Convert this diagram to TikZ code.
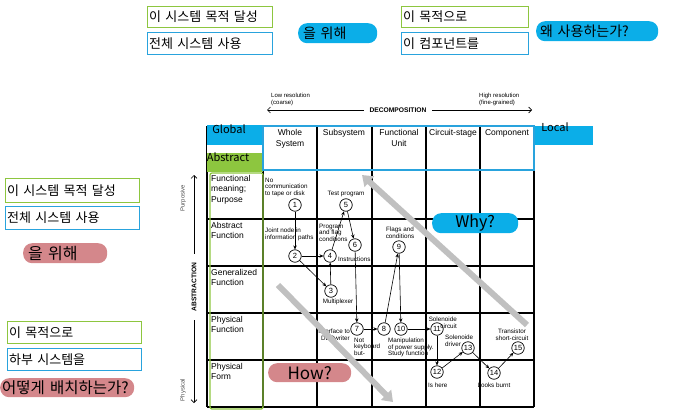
\documentclass[tikz,border=0pt]{standalone}
\usepackage{fontspec}
\setmainfont{Liberation Sans}
\newfontfamily\krfont{Noto Sans CJK KR}
\usetikzlibrary{arrows.meta}

\definecolor{goalgreen}{HTML}{8DC63F}
\definecolor{useblue}{HTML}{29A3DD}
\definecolor{pillblue}{HTML}{0BAEE8}
\definecolor{pillpink}{HTML}{D4878B}
\definecolor{arrowgray}{HTML}{C0C0C0}

\tikzset{
  krbox/.style={rectangle, anchor=north west, line width=1.2pt, inner xsep=1.5pt, inner ysep=0pt, align=left, font=\krfont\fontsize{13}{14}\selectfont},
  goalbox/.style={krbox, draw=goalgreen},
  usebox/.style={krbox, draw=useblue},
  pill/.style={rectangle, rounded corners=9pt, anchor=north west, inner ysep=0pt, minimum height=20pt, font=\krfont\fontsize{14}{15}\selectfont},
  bluepill/.style={pill, fill=pillblue},
  pinkpill/.style={pill, fill=pillpink},
  num/.style={circle, draw=black, line width=0.7pt, fill=white, minimum size=12.5pt, inner sep=0pt, font=\fontsize{7.5}{7.5}\selectfont},
  flow/.style={draw=black, line width=0.6pt, -{Stealth[length=4pt,width=3.5pt]}},
  note/.style={inner sep=0pt, align=left, font=\fontsize{6.3}{6.8}\selectfont},
  rowlabel/.style={inner sep=0pt, anchor=north west, align=left, font=\fontsize{8.5}{10.5}\selectfont},
  header/.style={inner sep=0pt, anchor=north, align=center, font=\fontsize{8.5}{11}\selectfont},
  bigarrow/.style={draw=arrowgray, line width=6pt, -{Triangle[length=10pt,width=14pt]}}
}

\begin{document}
\begin{tikzpicture}[x=1pt, y=-1pt]
\useasboundingbox (0,0) rectangle (696,415);

% top explanation
\node[goalbox, text width=122pt, minimum height=21pt] (tgoal) at (147,6) {이 시스템 목적 달성};
\node[usebox, text width=122pt, minimum height=22pt] (tuse) at (147,32) {전체 시스템 사용};
\node[bluepill, text width=69pt, inner xsep=5pt] (tfor) at (298,23) {을 위해};
\node[goalbox, text width=124pt, minimum height=21pt] (tgoal2) at (401,6) {이 목적으로};
\node[usebox, text width=124pt, minimum height=22pt] (tcomp) at (401,32) {이 컴포넌트를};
\node[bluepill, text width=114pt, inner xsep=4pt] (twhy) at (536,21) {왜 사용하는가?};

% left explanation
\node[goalbox, text width=131pt, minimum height=24pt] (lgoal) at (5,178) {이 시스템 목적 달성};
\node[usebox, text width=131pt, minimum height=23pt] (luse) at (5,206) {전체 시스템 사용};
\node[pinkpill, text width=74pt, inner xsep=5pt, font=\krfont\fontsize{16}{17}\selectfont] (lfor) at (23,243) {을 위해};
\node[goalbox, text width=131pt, minimum height=22pt] (lgoal2) at (7,321) {이 목적으로};
\node[usebox, text width=131pt, minimum height=22pt] (lsub) at (7,348) {하부 시스템을};
\node[pinkpill, text width=130pt, inner xsep=2pt, minimum height=19pt, font=\krfont\fontsize{15.5}{16}\selectfont] (lhow) at (0,378) {어떻게 배치하는가?};

% decomposition axis
\coordinate (decL) at (267,110);
\coordinate (decR) at (532,110);
\draw[line width=0.6pt, {Straight Barb[length=3pt,width=6pt]}-{Straight Barb[length=3pt,width=6pt]}] (decL) -- (decR);
\node[fill=white, inner xsep=6pt, inner ysep=1pt, font=\bfseries\fontsize{6.7}{7}\selectfont] (dec) at (398,110) {DECOMPOSITION};
\node[note, anchor=north west, font=\fontsize{6}{6.5}\selectfont] (low) at (271,93) {Low resolution\\(coarse)};
\node[note, anchor=north west, font=\fontsize{6}{6.5}\selectfont] (high) at (479,93) {High resolution\\(fine-grained)};

% abstraction axis
\coordinate (absT) at (194,175);
\coordinate (absB) at (194,403);
\draw[line width=0.6pt, {Straight Barb[length=3pt,width=6pt]}-{Straight Barb[length=3pt,width=6pt]}] (absT) -- (absB);
\node[fill=white, rotate=90, inner xsep=9pt, inner ysep=1pt, font=\bfseries\fontsize{6.7}{7}\selectfont] (abs) at (194,287) {ABSTRACTION};
\node[rotate=90, inner sep=0pt, text=black!70, font=\fontsize{6}{6.5}\selectfont] (purp) at (183,198) {Purposive};
\node[rotate=90, inner sep=0pt, text=black!70, font=\fontsize{6}{6.5}\selectfont] (phys) at (183,390) {Physical};

% grid
\foreach \gx in {207,263,317,372,426,480,534}
  \draw[line width=1.1pt] (\gx,126) -- (\gx,407);
\foreach \gy in {126,170,219,266,313,360,407}
  \draw[line width=1.1pt] (207,\gy) -- (534,\gy);

% colour marks on the grid
\fill[pillblue] (207,125) rectangle (263,145);
\fill[white] (207,145) rectangle (262.5,153);
\fill[goalgreen] (207,153) rectangle (263,172);
\fill[pillblue] (534,126) rectangle (593,145);
\draw[useblue, line width=1.5pt] (263,126) rectangle (534,170);
\draw[goalgreen, line width=1.3pt, rounded corners=2pt] (210,173) rectangle (263,409);
\node[inner sep=0pt, font=\krfont\fontsize{11}{12}\selectfont] (glob) at (229,129) {Global};
\node[inner sep=0pt, font=\krfont\fontsize{11}{12}\selectfont] (abst) at (228,157) {Abstract};
\node[inner sep=0pt, font=\krfont\fontsize{11}{12}\selectfont] (loc) at (555,127) {Local};

% headers
\node[header] (h1) at (290,129) {Whole\\System};
\node[header] (h2) at (344,129) {Subsystem};
\node[header] (h3) at (399,129) {Functional\\Unit};
\node[header] (h4) at (453,129) {Circuit-stage};
\node[header] (h5) at (507,129) {Component};

% row labels
\node[rowlabel] (r1) at (211,175) {Functional\\meaning;\\Purpose};
\node[rowlabel] (r2) at (211,222) {Abstract\\Function};
\node[rowlabel] (r3) at (211,269) {Generalized\\Function};
\node[rowlabel] (r4) at (211,316) {Physical\\Function};
\node[rowlabel] (r5) at (211,363) {Physical\\Form};

% search path
\node[num] (n1) at (295,205) {1};
\node[num] (n2) at (295,256) {2};
\node[num] (n3) at (331,291) {3};
\node[num] (n4) at (330,256) {4};
\node[num] (n5) at (346,205) {5};
\node[num] (n6) at (355,245) {6};
\node[num] (n7) at (357,329) {7};
\node[num] (n8) at (384,329) {8};
\node[num] (n9) at (399,247) {9};
\node[num] (n10) at (401,329) {10};
\node[num] (n11) at (437,329) {11};
\node[num] (n12) at (437,372) {12};
\node[num] (n13) at (468,348) {13};
\node[num] (n14) at (494,373) {14};
\node[num] (n15) at (518,348) {15};

\path[flow] (n1) edge (n2);
\path[flow] (n2) edge (n4);
\path[flow] (n2) edge (n3);
\path[flow] (n3) edge (n4);
\path[flow] (n4) edge (n5);
\path[flow] (n5) edge (n6);
\path[flow] (n6) edge (n7);
\path[flow] (n7) edge (n8);
\path[flow] (n8) edge (n9);
\path[flow] (n9) edge (n10);
\path[flow] (n10) edge (n11);
\path[flow] (n11) edge (n12);
\path[flow] (n12) edge (n13);
\path[flow] (n13) edge (n14);
\path[flow] (n14) edge (n15);

% notes
\node[note, anchor=north west] (t1) at (265,177.5) {No\\communication\\to tape or disk};
\node[note] (t5) at (346,194) {Test program};
\node[note, anchor=north west] (t2) at (265,227.5) {Joint node in\\information paths};
\node[note, anchor=north west] (t4) at (319,223.5) {Program\\and flag\\conditions};
\node[note, anchor=west] (t6) at (338,259) {Instructions};
\node[note, align=center] (t9) at (400,233) {Flags and\\conditions};
\node[note] (t3) at (338,302) {Multiplexer};
\node[note, anchor=east, align=right] (t7) at (350,334.5) {Interface to\\DECwriter};
\node[note, anchor=north west] (t8) at (354,337.5) {Not\\keyboard\\but-};
\node[note, anchor=north west] (t10) at (388,337.5) {Manipulation\\of power supply.\\Study function};
\node[note, anchor=east, align=right] (t11) at (457,323) {Solenoide\\circuit};
\node[note, anchor=north west] (t13) at (445,334.5) {Solenoide\\driver};
\node[note, anchor=west] (t12) at (428,385) {Is here};
\node[note, align=center] (t15) at (512,335) {Transistor\\short-circuit};
\node[note] (t14) at (494,385) {Looks burnt};

% why / how
\coordinate (whyS) at (527,325);
\coordinate (whyE) at (362,175);
\draw[bigarrow] (whyS) -- (whyE);
\coordinate (howS) at (278,285);
\coordinate (howE) at (393,402);
\draw[bigarrow] (howS) -- (howE);
\node[bluepill, minimum width=86pt, font=\krfont\fontsize{16}{17}\selectfont] (why) at (432,213) {Why?};
\node[pinkpill, minimum width=83pt, minimum height=19pt, font=\krfont\fontsize{17}{18}\selectfont] (how) at (268,363) {How?};
\end{tikzpicture}
\end{document}
